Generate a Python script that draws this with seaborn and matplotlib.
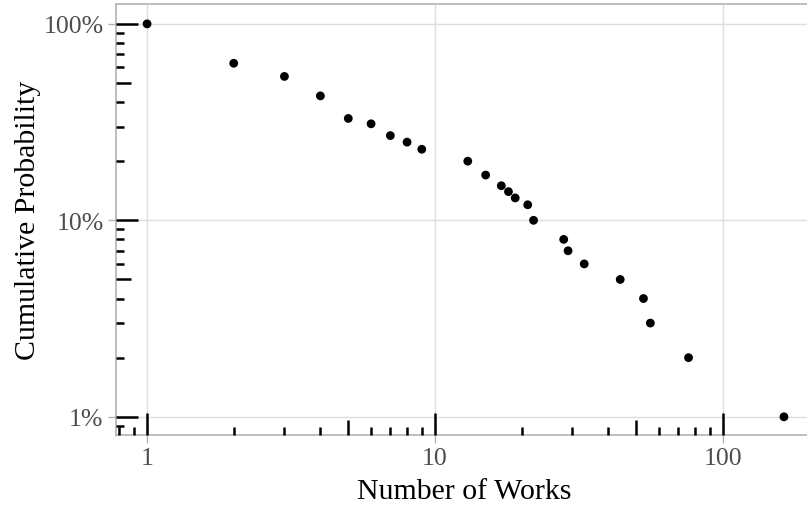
import numpy as np
import pandas as pd
import matplotlib
matplotlib.use("Agg")
import matplotlib.pyplot as plt
import matplotlib.transforms as mtransforms
import seaborn as sns

works = [1, 2, 3, 4, 5, 6, 7, 8, 9, 13, 15, 17, 18, 19, 21, 22, 28, 29, 33, 44, 53, 56, 76, 163]
cum_prob = [1.00, 0.63, 0.54, 0.43, 0.33, 0.31, 0.27, 0.25, 0.23, 0.20, 0.17, 0.15, 0.14, 0.13,
            0.12, 0.10, 0.08, 0.07, 0.06, 0.05, 0.04, 0.03, 0.02, 0.01]
x_ticks = [1, 10, 100]
x_labels = ["1", "10", "100"]
y_ticks = [0.01, 0.1, 1.0]
y_labels = ["1%", "10%", "100%"]

df = pd.DataFrame({"works": works, "prob": cum_prob})

sns.set_theme(style="white")
plt.rcParams["font.family"] = ["Liberation Serif", "DejaVu Serif"]

fig = plt.figure(figsize=(8.07, 5.06), dpi=100)
left_px, right_px = 116, 812
top_px, bot_px = 5, 436
ax = fig.add_axes([left_px / 807, (506 - bot_px) / 506,
                   (right_px - left_px) / 807, (bot_px - top_px) / 506])

sns.scatterplot(data=df, x="works", y="prob", ax=ax, color="black", s=40,
                edgecolor="none", zorder=5, clip_on=False)
ax.set_xscale("log")
ax.set_yscale("log")
ax.set_xlim(0.78, 204)
ax.set_ylim(0.00808, 1.262)

ax.set_xticks(x_ticks)
ax.set_xticklabels(x_labels)
ax.set_yticks(y_ticks)
ax.set_yticklabels(y_labels)
ax.minorticks_off()
ax.tick_params(axis="both", which="major", length=6, width=1, color="#b3b3b3",
               labelsize=18.5, labelcolor="#4d4d4d", pad=3, direction="out",
               bottom=True, left=True)

ax.grid(True, which="major", color="#dedede", linewidth=1)
ax.set_axisbelow(True)
for side, sp in ax.spines.items():
    sp.set_color("#b3b3b3")
    sp.set_linewidth(1.2)
    sp.set_visible(True)

ax.set_xlabel("Number of Works", fontsize=21.5, color="black", labelpad=6)
ax.set_ylabel("Cumulative Probability", fontsize=21.5, color="black", labelpad=2)

# annotation log ticks (like ggplot annotation_logticks)
def tick_len(m):
    if m == 1:
        return 22
    if m == 5:
        return 15
    return 8

trans_x = mtransforms.blended_transform_factory(ax.transData, ax.transAxes)
trans_y = mtransforms.blended_transform_factory(ax.transAxes, ax.transData)
h_px = (bot_px - top_px)
w_px = (right_px - left_px)
x0, x1 = ax.get_xlim()
for dec in [0.1, 1, 10, 100]:
    for m in range(1, 10):
        v = dec * m
        if x0 <= v <= x1:
            ax.plot([v, v], [0, tick_len(m) / h_px], transform=trans_x, color="black",
                    lw=1.8, solid_capstyle="butt", clip_on=False, zorder=4)
y0, y1 = ax.get_ylim()
for dec in [0.001, 0.01, 0.1, 1]:
    for m in range(1, 10):
        v = dec * m
        if y0 <= v <= y1:
            ax.plot([0, tick_len(m) / w_px], [v, v], transform=trans_y, color="black",
                    lw=1.8, solid_capstyle="butt", clip_on=False, zorder=4)

fig.savefig("out.png", dpi=100)
